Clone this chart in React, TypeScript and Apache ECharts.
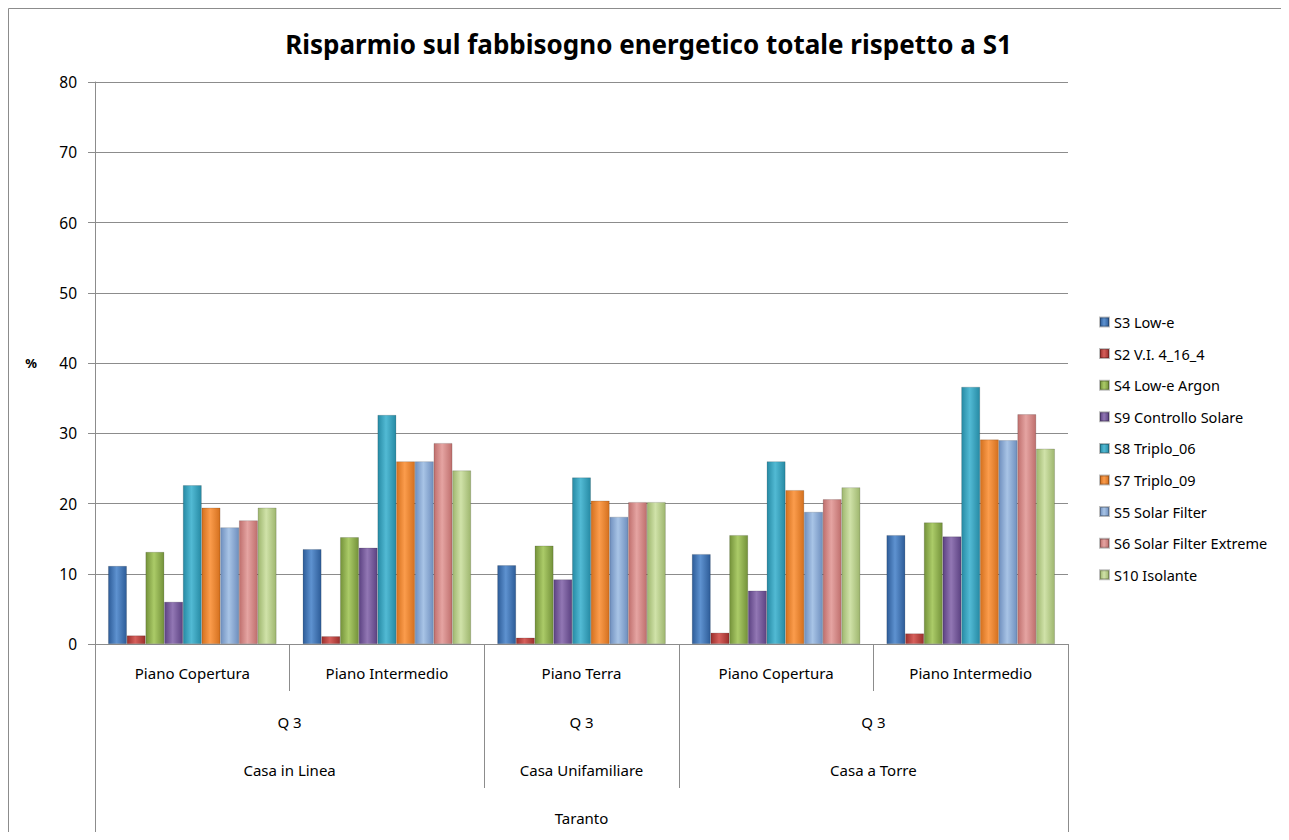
import React, { useEffect, useRef } from "react";
import * as echarts from "echarts";

const title = "Risparmio sul fabbisogno energetico totale rispetto a S1";
const categories = ["Piano Copertura", "Piano Intermedio", "Piano Terra", "Piano Copertura", "Piano Intermedio"];
const level2 = [
  { label: "Q 3", from: 0, to: 2 },
  { label: "Q 3", from: 2, to: 3 },
  { label: "Q 3", from: 3, to: 5 },
];
const level3 = [
  { label: "Casa in Linea", from: 0, to: 2 },
  { label: "Casa Unifamiliare", from: 2, to: 3 },
  { label: "Casa a Torre", from: 3, to: 5 },
];
const level4 = [{ label: "Taranto", from: 0, to: 5 }];

const seriesNames = [
  "S3 Low-e",
  "S2 V.I. 4_16_4",
  "S4 Low-e Argon",
  "S9 Controllo Solare",
  "S8 Triplo_06",
  "S7 Triplo_09",
  "S5 Solar Filter",
  "S6 Solar Filter Extreme",
  "S10 Isolante",
];
const s3 = [11.1, 13.5, 11.2, 12.8, 15.5];
const s2 = [1.2, 1.1, 0.9, 1.6, 1.5];
const s4 = [13.1, 15.2, 14.0, 15.5, 17.3];
const s9 = [6.0, 13.7, 9.2, 7.6, 15.3];
const s8 = [22.6, 32.6, 23.7, 26.0, 36.6];
const s7 = [19.4, 26.0, 20.4, 21.9, 29.1];
const s5 = [16.6, 26.0, 18.1, 18.8, 29.0];
const s6 = [17.6, 28.6, 20.2, 20.6, 32.7];
const s10 = [19.4, 24.7, 20.2, 22.3, 27.8];
const seriesValues = [s3, s2, s4, s9, s8, s7, s5, s6, s10];

const yTicks = { min: 0, max: 80, interval: 10 };

// [dark, light] colour pairs per series
const palette = [
  ["#2D5C98", "#5E92D0"],
  ["#9C2F2C", "#D65F5B"],
  ["#74923A", "#ABCB68"],
  ["#5C4282", "#9277B4"],
  ["#268AA4", "#52BAD4"],
  ["#D4701E", "#FB9C4C"],
  ["#6F8FBE", "#A8C4E6"],
  ["#BF6F6D", "#E5A4A2"],
  ["#9EB66E", "#D0E2A9"],
];

const W = 1281;
const H = 840;
const GL = 87;
const GR = 221;
const GT = 74;
const GB = 204;
const FONT = "'Noto Sans', 'Open Sans', sans-serif";

export default function App() {
  const ref = useRef<HTMLDivElement>(null);
  useEffect(() => {
    if (!ref.current) return;
    const chart = echarts.init(ref.current, null, { renderer: "svg" });
    const plotW = W - GL - GR;
    const band = plotW / categories.length;
    const axisY = H - GB;
    const lineColor = "#8C8C8C";

    const graphics: any[] = [];
    graphics.push({
      type: "rect",
      shape: { x: 0.5, y: 0.5, width: W - 1, height: H + 20 },
      style: { fill: "none", stroke: "#8C8C8C", lineWidth: 1 },
      silent: true,
    });
    const levelTextY = [axisY + 78, axisY + 126, axisY + 174];
    const levels = [level2, level3, level4];
    levels.forEach((lv, li) => {
      lv.forEach((g) => {
        graphics.push({
          type: "text",
          x: GL + band * (g.from + g.to) / 2,
          y: levelTextY[li],
          style: {
            text: g.label,
            font: `15px ${FONT}`,
            fill: "#000",
            align: "center",
            verticalAlign: "middle",
          },
          silent: true,
        });
      });
    });
    // separators for Casa groups (down through level 3)
    [2, 3].forEach((i) => {
      const x = Math.round(GL + band * i) + 0.5;
      graphics.push({
        type: "line",
        shape: { x1: x, y1: axisY, x2: x, y2: axisY + 144 },
        style: { stroke: lineColor, lineWidth: 1 },
        silent: true,
      });
    });
    // outer edges down to the bottom
    [0, 5].forEach((i) => {
      const x = Math.round(GL + band * i) + 0.5;
      graphics.push({
        type: "line",
        shape: { x1: x, y1: axisY, x2: x, y2: axisY + 192 },
        style: { stroke: lineColor, lineWidth: 1 },
        silent: true,
      });
    });

    chart.setOption({
      animation: false,
      backgroundColor: "#fff",
      title: {
        text: title,
        left: "center",
        top: 18,
        textStyle: { fontFamily: FONT, fontSize: 26, fontWeight: "bold", color: "#000" },
      },
      legend: {
        orient: "vertical",
        left: 1086,
        top: 301,
        itemWidth: 9,
        itemHeight: 9,
        itemGap: 15.6,
        icon: "rect",
        textStyle: { fontFamily: FONT, fontSize: 14.5, color: "#000", lineHeight: 16 },
        data: seriesNames,
      },
      grid: { left: GL, right: GR, top: GT, bottom: GB, containLabel: false },
      xAxis: {
        type: "category",
        data: categories,
        axisLine: { show: true, lineStyle: { color: lineColor } },
        axisTick: { show: true, interval: 0, length: 47, lineStyle: { color: lineColor } },
        axisLabel: { interval: 0, margin: 21, fontFamily: FONT, fontSize: 15, color: "#000" },
        splitLine: { show: false },
      },
      yAxis: {
        type: "value",
        min: yTicks.min,
        max: yTicks.max,
        interval: yTicks.interval,
        name: "%",
        nameLocation: "middle",
        nameRotate: 0,
        nameGap: 58,
        nameTextStyle: { fontFamily: FONT, fontSize: 13, fontWeight: "bold", color: "#000" },
        axisLine: { show: true, lineStyle: { color: lineColor } },
        axisTick: { show: true, length: 7, lineStyle: { color: lineColor } },
        axisLabel: { margin: 18, fontFamily: FONT, fontSize: 15.5, color: "#000" },
        splitLine: { show: true, lineStyle: { color: lineColor, width: 1 } },
      },
      series: seriesNames.map((name, i) => ({
        name,
        type: "bar",
        data: seriesValues[i],
        barGap: "0%",
        barCategoryGap: "13.5%",
        itemStyle: {
          color: new echarts.graphic.LinearGradient(0, 0, 1, 0, [
            { offset: 0, color: palette[i][0] },
            { offset: 0.45, color: palette[i][1] },
            { offset: 1, color: palette[i][0] },
          ]),
          borderColor: "rgba(0,0,0,0.25)",
          borderWidth: 0.6,
        },
      })),
      graphic: graphics,
    });
    return () => chart.dispose();
  }, []);
  return <div ref={ref} style={{ width: W, height: H, marginBottom: -16 }} />;
}
